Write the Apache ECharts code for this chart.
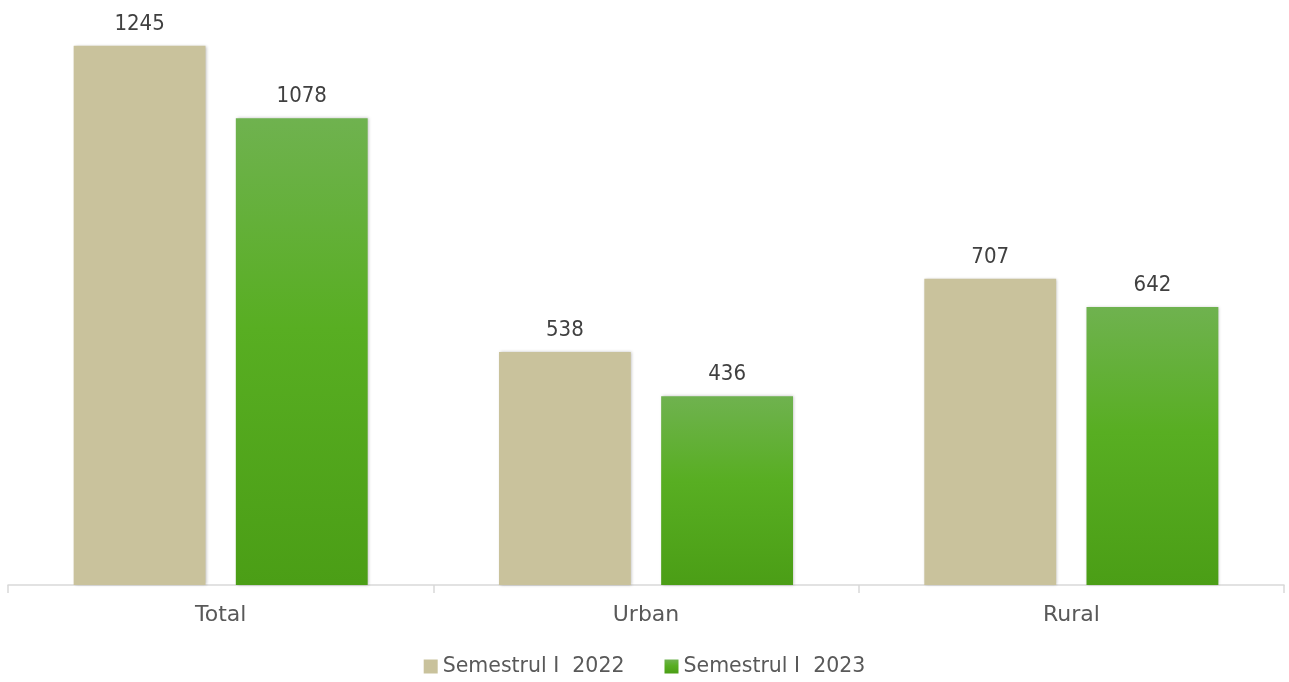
<!DOCTYPE html>
<html>
<head>
<meta charset="utf-8">
<style>
  html, body { margin: 0; padding: 0; background: #fff; }
  #chart { width: 1289px; height: 682px; }
</style>
<script src="https://cdn.jsdelivr.net/npm/echarts@6/dist/echarts.min.js"></script>
</head>
<body>
<div id="chart"></div>
<script>
const categories = ['Total', 'Urban', 'Rural'];
const seriesNames = ['Semestrul I  2022', 'Semestrul I  2023'];
const values2022 = [1245, 538, 707];
const values2023 = [1078, 436, 642];

const chart = echarts.init(document.getElementById('chart'));
const font = '"DejaVu Sans", Verdana, sans-serif';
const numFont = '"DejaVu Sans Condensed", "DejaVu Sans", sans-serif';

const greenFill = new echarts.graphic.LinearGradient(0, 0, 0, 1, [
    { offset: 0, color: '#6fb24f' },
    { offset: 0.45, color: '#58ae22' },
    { offset: 1, color: '#4b9e16' }
]);

// shared value label style
const valueLabel = {
    show: true,
    position: 'top',
    distance: 11,
    fontFamily: numFont,
    fontSize: 22,
    color: '#404040'
};

const option = {
    animation: false,
    grid: { left: 8, right: 5, top: 22, bottom: 97 },
    legend: {
        bottom: 0,
        left: 'center',
        itemWidth: 14,
        itemHeight: 14,
        itemGap: 40,
        icon: 'rect',
        textStyle: { fontFamily: font, fontSize: 20.5, color: '#595959' },
        data: seriesNames
    },
    xAxis: {
        type: 'category',
        data: categories,
        axisLine: { lineStyle: { color: '#d9d9d9', width: 1.5 } },
        axisTick: { show: true, length: 8, lineStyle: { color: '#d9d9d9', width: 1.5 } },
        axisLabel: { fontFamily: font, fontSize: 22, color: '#595959', margin: 19 }
    },
    yAxis: {
        type: 'value',
        min: 0,
        max: 1300,
        show: false
    },
    series: [
        {
            name: seriesNames[0],
            type: 'bar',
            data: values2022,
            barWidth: '31%',
            barGap: '23%',
            itemStyle: {
                color: '#c9c29c',
                shadowColor: 'rgba(0,0,0,0.25)',
                shadowBlur: 3,
                shadowOffsetX: 1
            },
            label: valueLabel
        },
        {
            name: seriesNames[1],
            type: 'bar',
            data: values2023,
            barWidth: '31%',
            itemStyle: {
                color: greenFill,
                shadowColor: 'rgba(0,0,0,0.25)',
                shadowBlur: 3,
                shadowOffsetX: 1
            },
            label: valueLabel
        }
    ]
};

chart.setOption(option);
window.addEventListener('resize', () => chart.resize());
</script>
</body>
</html>
